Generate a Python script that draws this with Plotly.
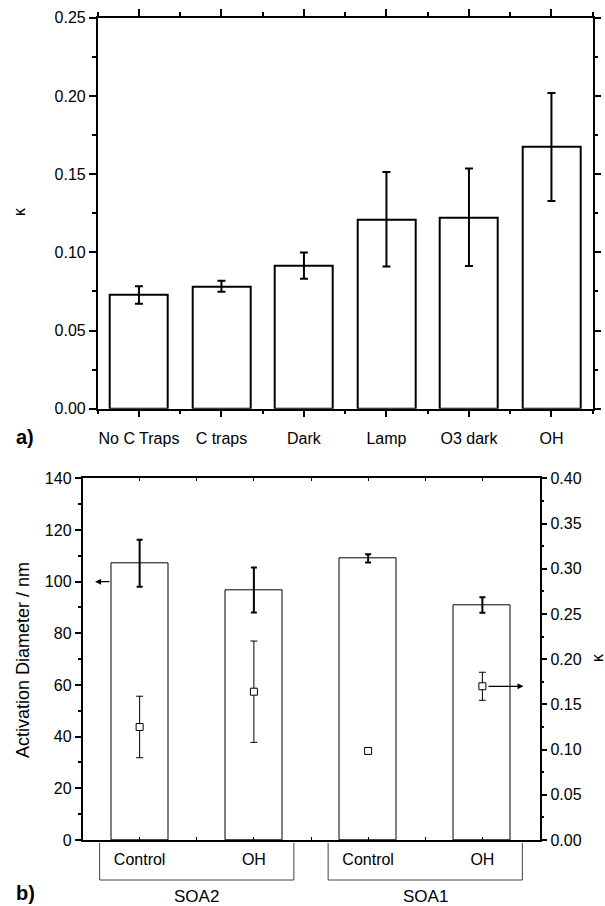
import plotly.graph_objects as go

# ---------- data: panel a ----------
cats_a = ["No C Traps", "C traps", "Dark", "Lamp", "O3 dark", "OH"]
kappa_a = [0.0727, 0.0783, 0.0915, 0.1211, 0.1224, 0.1673]
kappa_a_err = [0.0056, 0.0035, 0.0084, 0.0302, 0.0312, 0.0345]

# ---------- data: panel b ----------
cats_b = ["Control", "OH", "Control", "OH"]
groups_b = ["SOA2", "SOA1"]
diam_b = [107.1, 96.8, 109.0, 91.0]
diam_b_err = [9.1, 8.7, 1.6, 3.0]
kappa_b = [0.125, 0.164, 0.0985, 0.170]
kappa_b_err = [0.034, 0.056, 0.003, 0.0155]

FONT = "Liberation Sans, Arial, sans-serif"
W, H = 605, 906

def px_x(p):
    return p / W

def px_y(p):
    return 1 - p / H

xa = list(range(len(cats_a)))
xb = list(range(len(cats_b)))

fig = go.Figure()

fig.add_trace(go.Bar(
    x=xa, y=kappa_a, width=0.70,
    marker=dict(color="white", line=dict(color="black", width=2)),
    error_y=dict(type="data", array=kappa_a_err, visible=True,
                 color="black", thickness=2, width=4),
    xaxis="x", yaxis="y", showlegend=False,
))

fig.add_trace(go.Bar(
    x=xb, y=diam_b, width=0.50,
    marker=dict(color="white", line=dict(color="black", width=1)),
    error_y=dict(type="data", array=diam_b_err, visible=True,
                 color="black", thickness=2, width=3),
    xaxis="x2", yaxis="y2", showlegend=False,
))

fig.add_trace(go.Scatter(
    x=xb, y=kappa_b, mode="markers",
    marker=dict(symbol="square", size=7, color="white",
                line=dict(color="black", width=1)),
    error_y=dict(type="data", array=kappa_b_err, visible=True,
                 color="black", thickness=1, width=3.5),
    xaxis="x2", yaxis="y3", showlegend=False,
))

tickfont = dict(family=FONT, size=16, color="black")

fig.update_layout(
    template="none",
    width=W, height=H, autosize=False,
    margin=dict(l=0, r=0, t=0, b=0, pad=0),
    paper_bgcolor="white", plot_bgcolor="white",
    font=dict(family=FONT, size=16, color="black"),
    bargap=0,
    xaxis=dict(
        domain=[px_x(97.7), px_x(592.7)], anchor="y", automargin=False,
        range=[-0.5, 5.5], tickmode="array", tickvals=xa, ticktext=cats_a,
        ticks="outside", ticklen=7, tickwidth=1.5, tickcolor="black",
        minor=dict(tickmode="array", tickvals=[i + 0.5 for i in range(-1, 6)],
                   ticks="outside", ticklen=4, tickwidth=1.5, tickcolor="black"),
        showline=True, linecolor="black", linewidth=1.5, mirror="ticks",
        showgrid=False, zeroline=False, tickfont=tickfont,
        ticklabelstandoff=7,
    ),
    yaxis=dict(
        domain=[px_y(408.7), px_y(17.7)], anchor="x", automargin=False,
        range=[0, 0.25], tickmode="linear", tick0=0, dtick=0.05,
        tickformat=".2f",
        ticks="outside", ticklen=7, tickwidth=1.5, tickcolor="black",
        minor=dict(dtick=0.025, ticks="outside", ticklen=4, tickwidth=1.5,
                   tickcolor="black"),
        showline=True, linecolor="black", linewidth=1.5, mirror="ticks",
        showgrid=False, zeroline=False, tickfont=tickfont,
    ),
    xaxis2=dict(
        domain=[px_x(82.5), px_x(539.5)], anchor="y2", automargin=False,
        range=[-0.5, 3.5], tickmode="array", tickvals=xb, ticktext=cats_b,
        ticks="inside", ticklen=3, tickwidth=1, tickcolor="black",
        minor=dict(tickmode="array", tickvals=[i + 0.5 for i in range(-1, 4)],
                   ticks="inside", ticklen=3, tickwidth=1, tickcolor="black"),
        showline=True, linecolor="black", linewidth=1.5, mirror="ticks",
        showgrid=False, zeroline=False, tickfont=tickfont,
        ticklabelstandoff=4,
    ),
    yaxis2=dict(
        domain=[px_y(840), px_y(478.3)], anchor="x2", automargin=False,
        range=[0, 140], tickmode="linear", tick0=0, dtick=20,
        ticks="outside", ticklen=6, tickwidth=1.5, tickcolor="black",
        minor=dict(dtick=10, ticks="outside", ticklen=3, tickwidth=1.5,
                   tickcolor="black"),
        showline=True, linecolor="black", linewidth=1.5,
        showgrid=False, zeroline=False, tickfont=tickfont,
    ),
    yaxis3=dict(
        overlaying="y2", side="right", anchor="x2", automargin=False,
        range=[0, 0.40], tickmode="linear", tick0=0, dtick=0.05,
        tickformat=".2f",
        ticks="outside", ticklen=6, tickwidth=1.5, tickcolor="black",
        minor=dict(dtick=0.025, ticks="outside", ticklen=3, tickwidth=1.5,
                   tickcolor="black"),
        showline=True, linecolor="black", linewidth=1.5,
        showgrid=False, zeroline=False, tickfont=tickfont,
    ),
)

C = dict(xanchor="center", yanchor="middle", showarrow=False)
ann = []
# axis titles
ann.append(dict(text="κ", xref="paper", yref="paper", x=px_x(20), y=px_y(212),
                textangle=-90, font=dict(family=FONT, size=16), **C))
ann.append(dict(text="Activation Diameter / nm", xref="paper", yref="paper",
                x=px_x(23), y=px_y(660), textangle=-90,
                font=dict(family=FONT, size=18), **C))
ann.append(dict(text="κ", xref="paper", yref="paper", x=px_x(597), y=px_y(658),
                textangle=-90, font=dict(family=FONT, size=16), **C))
# panel labels
ann.append(dict(text="<b>a)</b>", xref="paper", yref="paper", x=px_x(25), y=px_y(437),
                font=dict(family=FONT, size=20), **C))
ann.append(dict(text="<b>b)</b>", xref="paper", yref="paper", x=px_x(25), y=px_y(893),
                font=dict(family=FONT, size=20), **C))
# group labels
for gi, g in enumerate(groups_b):
    ann.append(dict(text=g, xref="x2", yref="paper", x=2 * gi + 0.5, y=px_y(896),
                    font=dict(family=FONT, size=17), **C))
# arrows indicating axes
ann.append(dict(x=-0.39, y=diam_b[0] - 7.1, xref="x2", yref="y2",
                ax=-0.25, ay=diam_b[0] - 7.1, axref="x2", ayref="y2",
                showarrow=True, arrowhead=2, arrowsize=1, arrowwidth=1.2,
                arrowcolor="black", text=""))
ann.append(dict(x=3.36, y=kappa_b[3], xref="x2", yref="y3",
                ax=3.04, ay=kappa_b[3], axref="x2", ayref="y3",
                showarrow=True, arrowhead=2, arrowsize=1, arrowwidth=1.2,
                arrowcolor="black", text=""))
fig.update_layout(annotations=ann)

# group brackets below panel b
shapes = []
for gi in range(len(groups_b)):
    x0 = 2 * gi - 0.35
    x1 = 2 * gi + 1.35
    shapes.append(dict(type="path", xref="x2", yref="paper",
                       path=f"M {x0} {px_y(843)} L {x0} {px_y(880)} L {x1} {px_y(880)} L {x1} {px_y(843)}",
                       line=dict(color="#444444", width=1)))
fig.update_layout(shapes=shapes)

fig.write_html(
    "out.html",
    config={"displayModeBar": False, "responsive": False},
    post_script="document.body.style.margin='0';document.body.style.overflow='hidden';",
)
